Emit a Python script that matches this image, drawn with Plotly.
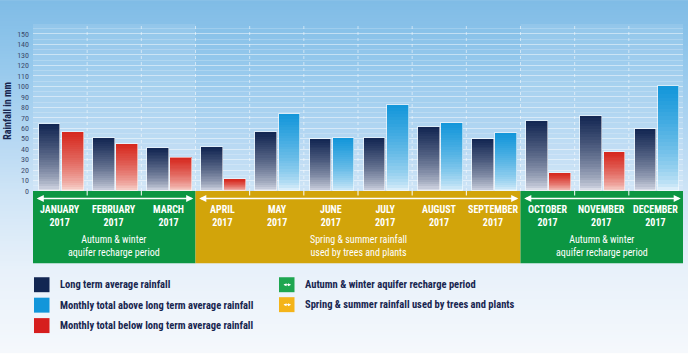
import base64, struct, zlib
import plotly.graph_objects as go

# ---------------- data ----------------
months = ["JANUARY", "FEBRUARY", "MARCH", "APRIL", "MAY", "JUNE", "JULY",
          "AUGUST", "SEPTEMBER", "OCTOBER", "NOVEMBER", "DECEMBER"]
year = "2017"
long_term_avg = [64, 51, 41, 42, 56, 50, 51, 61, 50, 67, 72, 59]
monthly_total = [56, 45, 32, 11, 74, 51, 82, 65, 55, 17, 37, 100]
y_ticks = list(range(0, 151, 10))
periods = [
    ("Autumn & winter<br>aquifer recharge period", 0, 2, "autumn"),
    ("Spring & summer rainfall<br>used by trees and plants", 3, 8, "spring"),
    ("Autumn & winter<br>aquifer recharge period", 9, 11, "autumn"),
]
legend_bars = ["Long term average rainfall",
               "Monthly total above long term average rainfall",
               "Monthly total below long term average rainfall"]
legend_periods = ["Autumn & winter aquifer recharge period",
                  "Spring & summer rainfall used by trees and plants"]

# ---------------- styles ----------------
W, H = 688, 354
L, R, T, B = 33, 5, 24, 162.5
PW, PH = W - L - R, H - T - B
FONT = "Liberation Sans Narrow, Roboto Condensed, Roboto, sans-serif"
NAVY_TXT = "rgb(24,38,80)"
band_col = {"autumn": "rgb(12,150,66)", "spring": "rgb(210,164,10)"}
leg_band_col = {"autumn": "rgb(30,166,80)", "spring": "rgb(244,180,26)"}
NAVY = ((18, 38, 82), (236, 238, 246))
BLUE = ((18, 150, 218), (238, 247, 253))
RED = ((214, 40, 30), (252, 236, 230))


def px(p):
    return (p - L) / PW


def py(p):
    return (H - B - p) / PH


def grad(c, t, e=0.6):
    top, bot = c
    f = t ** e
    return "rgb(%d,%d,%d)" % tuple(round(b + (a - b) * f) for a, b in zip(top, bot))


def png_gradient(stops, h=128):
    rows = []
    for i in range(h):
        yy = i / (h - 1) * H
        for j in range(len(stops) - 1):
            y0, c0 = stops[j]
            y1, c1 = stops[j + 1]
            if y0 <= yy <= y1:
                f = (yy - y0) / (y1 - y0)
                col = [round(a + (b - a) * f) for a, b in zip(c0, c1)]
                break
        rows.append(b"\x00" + bytes(col) * 2)
    raw = b"".join(rows)

    def chunk(tag, data):
        return struct.pack(">I", len(data)) + tag + data + struct.pack(">I", zlib.crc32(tag + data) & 0xffffffff)
    png = b"\x89PNG\r\n\x1a\n" + chunk(b"IHDR", struct.pack(">IIBBBBB", 2, h, 8, 2, 0, 0, 0))
    png += chunk(b"IDAT", zlib.compress(raw)) + chunk(b"IEND", b"")
    return "data:image/png;base64," + base64.b64encode(png).decode()


bg_stops = [(0, (128, 188, 230)), (60, (148, 200, 236)), (130, (178, 214, 242)),
            (190, (206, 228, 246)), (270, (232, 241, 250)), (354, (245, 248, 252))]

# ---------------- figure ----------------
fig = go.Figure()
xi = list(range(len(months)))
N = 28
actual_cols = [BLUE if a > m else RED for a, m in zip(monthly_total, long_term_avg)]
for k in range(N):
    t = (k + 0.5) / N
    fig.add_trace(go.Bar(
        x=xi, y=[v / N for v in long_term_avg], base=[v * k / N for v in long_term_avg],
        offset=-0.395, width=0.40, marker=dict(color=grad(NAVY, t), line=dict(width=0)),
        showlegend=False, hoverinfo="skip"))
    fig.add_trace(go.Bar(
        x=xi, y=[v / N for v in monthly_total], base=[v * k / N for v in monthly_total],
        offset=0.035, width=0.40,
        marker=dict(color=[grad(c, t) for c in actual_cols], line=dict(width=0)),
        showlegend=False, hoverinfo="skip"))
for vals, off in ((long_term_avg, -0.395), (monthly_total, 0.035)):
    fig.add_trace(go.Bar(x=xi, y=vals, offset=off, width=0.40,
                         marker=dict(color="rgba(0,0,0,0)", line=dict(width=1, color="rgba(255,255,255,0.55)")),
                         showlegend=False, hoverinfo="skip"))

shapes = []
annotations = []
# winter texture tint + vertical dividers
for _, a, b, kind in periods:
    if kind == "autumn":
        shapes.append(dict(type="rect", xref="x", yref="paper", x0=a - 0.5, x1=b + 0.5, y0=0, y1=1,
                           fillcolor="rgba(255,255,255,0.10)", line=dict(width=0), layer="below"))
for i in xi[:-1]:
    shapes.append(dict(type="line", xref="x", yref="paper", x0=i + 0.5, x1=i + 0.5, y0=0, y1=1,
                       line=dict(color="rgba(255,255,255,0.55)", width=1, dash="dot"), layer="below"))

# period bands
for text, a, b, kind in periods:
    shapes.append(dict(type="rect", xref="x", yref="paper", x0=a - 0.5, x1=b + 0.5,
                       y0=py(264), y1=py(191.5), fillcolor=band_col[kind], line=dict(width=0)))
    for i in range(a, b):
        shapes.append(dict(type="line", xref="x", yref="paper", x0=i + 0.5, x1=i + 0.5,
                           y0=py(196), y1=py(191.5), line=dict(color="white", width=1)))
    annotations.append(dict(xref="x", yref="paper", x=b + 0.46, y=py(199), ax=a - 0.46, ay=0,
                            axref="x", ayref="pixel", text="", showarrow=True, arrowside="end+start",
                            arrowhead=2, arrowsize=1.1, arrowwidth=1.3, arrowcolor="white"))
    annotations.append(dict(xref="x", yref="paper", x=(a + b) / 2, y=py(247), text=text,
                            xanchor="center", yanchor="middle",
                            showarrow=False, font=dict(family=FONT, size=10, color="white"),
                            align="center"))
for i, m in enumerate(months):
    annotations.append(dict(xref="x", yref="paper", x=i, y=py(216.5), text="<b>%s<br>%s</b>" % (m, year),
                            xanchor="center", yanchor="middle",
                            showarrow=False, font=dict(family=FONT, size=10, color="white"), align="center"))

# y title
annotations.append(dict(xref="paper", yref="paper", x=px(8), y=py(111), text="<b>Rainfall in mm</b>",
                        xanchor="center", yanchor="middle",
                        textangle=-90, showarrow=False, font=dict(family=FONT, size=10, color=NAVY_TXT)))

# legend
bar_leg_cols = ["rgb(18,38,82)", "rgb(18,150,218)", "rgb(214,30,30)"]
for j, (lab, col) in enumerate(zip(legend_bars, bar_leg_cols)):
    yc = 285.5 + j * 20.5
    shapes.append(dict(type="rect", xref="paper", yref="paper", x0=px(34), x1=px(49.5),
                       y0=py(yc + 7.5), y1=py(yc - 7.5), fillcolor=col, line=dict(width=0)))
    annotations.append(dict(xref="paper", yref="paper", x=px(58), y=py(yc), xanchor="left",
                            yanchor="middle", text="<b>%s</b>" % lab, showarrow=False,
                            font=dict(family=FONT, size=10.5, color=NAVY_TXT)))
for j, (lab, kind) in enumerate(zip(legend_periods, ["autumn", "spring"])):
    yc = 285.5 + j * 20
    shapes.append(dict(type="rect", xref="paper", yref="paper", x0=px(279), x1=px(294.5),
                       y0=py(yc + 7.5), y1=py(yc - 7.5), fillcolor=leg_band_col[kind], line=dict(width=0)))
    annotations.append(dict(xref="paper", yref="paper", x=px(291), y=py(yc), ax=-9, ay=0,
                            axref="pixel", ayref="pixel", text="", showarrow=True,
                            arrowside="end+start", arrowhead=2, arrowsize=0.6, arrowwidth=1,
                            arrowcolor="white"))
    annotations.append(dict(xref="paper", yref="paper", x=px(303), y=py(yc), xanchor="left",
                            yanchor="middle", text="<b>%s</b>" % lab, showarrow=False,
                            font=dict(family=FONT, size=10.5, color=NAVY_TXT)))

fig.update_layout(
    width=W, height=H, margin=dict(l=L, r=R, t=T, b=B, pad=0),
    paper_bgcolor="rgba(0,0,0,0)", plot_bgcolor="rgba(0,0,0,0)",
    barmode="overlay", bargap=0,
    xaxis=dict(range=[-0.5, len(months) - 0.5], showgrid=False, zeroline=False,
               showticklabels=False, ticks=""),
    yaxis=dict(range=[0, 159.5], tickmode="array", tickvals=y_ticks,
               showgrid=True, gridcolor="rgba(255,255,255,0.35)", gridwidth=1, zeroline=False,
               tickfont=dict(family=FONT, size=8, color="rgb(60,75,110)"), ticks="",
               ticklabelstandoff=3,
               minor=dict(tickmode="linear", dtick=5, showgrid=True, gridcolor="rgba(255,255,255,0.2)")),
    shapes=shapes, annotations=annotations,
    images=[dict(source=png_gradient(bg_stops), xref="paper", yref="paper", x=px(0), y=py(0),
                 sizex=W / PW, sizey=H / PH, sizing="stretch", xanchor="left", yanchor="top",
                 layer="below")],
    font=dict(family=FONT),
)
fig.write_html("out.html")
